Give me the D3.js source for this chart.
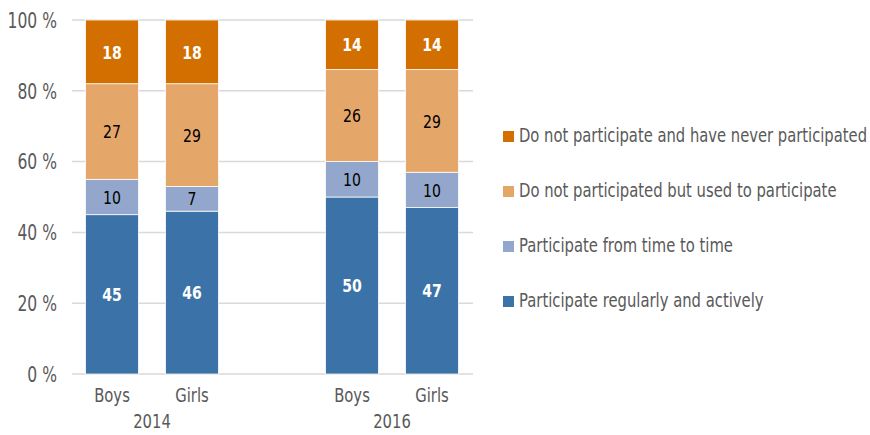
<!DOCTYPE html>
<html>
<head>
<meta charset="utf-8">
<style>
  body { margin: 0; background: #fff; }
  svg text { font-family: "DejaVu Sans", sans-serif; }
</style>
</head>
<body>
<svg id="chart" width="870" height="435"></svg>
<script src="https://cdn.jsdelivr.net/npm/d3@7"></script>
<script>
// categories (blank slot keeps the gap between years)
var bars = ['Boys 2014', 'Girls 2014', 'gap', 'Boys 2016', 'Girls 2016']
var barLabels = ['Boys', 'Girls', '', 'Boys', 'Girls']
var years = ['2014', '2016']
var series = [
  'Participate regularly and actively',
  'Participate from time to time',
  'Do not participated but used to participate',
  'Do not participate and have never participated'
]
// values per bar, in series order (bottom to top)
var regularly = [45, 46, null, 50, 47]
var timeToTime = [10, 7, null, 10, 10]
var usedTo = [27, 29, null, 26, 29]
var never = [18, 18, null, 14, 14]
var yTicks = [0, 20, 40, 60, 80, 100]

var colors = ['#3b72a7', '#93a6cb', '#e5a66a', '#d26f00']
var labelColors = ['#fff', '#000', '#000', '#fff']
var squeeze = 0.76 // narrow the glyphs, the picture uses a condensed face

var svg = d3.select('#chart')
var x = d3.scaleBand().domain(bars).range([72, 472]).paddingInner(0.34).paddingOuter(0.17)
var y = d3.scaleLinear().domain([0, 100]).range([374, 20])

function at(px, py) {
  return 'translate(' + px + ',' + py + ') scale(' + squeeze + ',1)'
}

// grid lines
svg.append('g').selectAll('line')
  .data(yTicks)
  .enter().append('line')
  .attr('x1', 72).attr('x2', 473)
  .attr('y1', function(d) { return y(d) }).attr('y2', function(d) { return y(d) })
  .attr('stroke', '#d9d9d9').attr('stroke-width', 1.5)

// y axis labels
var yAxis = d3.axisLeft(y).tickValues(yTicks).tickSize(0).tickPadding(0)
  .tickFormat(function(d) { return d + ' %' })
svg.append('g').attr('transform', 'translate(57,0)').call(yAxis)
  .call(function(g) { g.select('.domain').remove() })
  .selectAll('text')
  .attr('fill', '#595959').style('font-size', '20.5px')
  .style('font-family', '"DejaVu Sans", sans-serif')
  .attr('dy', '0.36em')
  .attr('transform', 'scale(' + squeeze + ',1)')

// stacked data
var table = bars.map(function(b, i) {
  return { bar: b, s0: regularly[i], s1: timeToTime[i], s2: usedTo[i], s3: never[i] }
}).filter(function(d) { return d.s0 != null })
var stack = d3.stack().keys(['s0', 's1', 's2', 's3'])
var layers = stack(table)

var groups = svg.append('g').selectAll('g')
  .data(layers)
  .enter().append('g')
  .attr('fill', function(d, i) { return colors[i] })

groups.selectAll('rect')
  .data(function(d) { return d })
  .enter().append('rect')
  .attr('x', function(d) { return x(d.data.bar) })
  .attr('width', x.bandwidth())
  .attr('y', function(d) { return y(d[1]) })
  .attr('height', function(d) { return y(d[0]) - y(d[1]) })
  .attr('stroke', '#fff').attr('stroke-width', 0.75)

groups.each(function(layer, li) {
  d3.select(this).selectAll('text')
    .data(layer)
    .enter().append('text')
    .attr('transform', function(d) {
      return at(x(d.data.bar) + x.bandwidth() / 2, (y(d[0]) + y(d[1])) / 2)
    })
    .attr('dy', '0.36em')
    .attr('text-anchor', 'middle')
    .attr('fill', labelColors[li])
    .style('font-size', '18.5px')
    .style('font-weight', li == 0 || li == 3 ? '600' : 'normal')
    .text(function(d) { return d[1] - d[0] })
})

// x axis labels
var xl = svg.append('g')
xl.selectAll('text.cat')
  .data(bars.filter(function(b) { return b != 'gap' }))
  .enter().append('text')
  .attr('class', 'cat')
  .attr('transform', function(d) { return at(x(d) + x.bandwidth() / 2, 402) })
  .attr('text-anchor', 'middle')
  .attr('fill', '#595959').style('font-size', '19.5px')
  .text(function(d) { return barLabels[bars.indexOf(d)] })
xl.selectAll('text.year')
  .data(years)
  .enter().append('text')
  .attr('class', 'year')
  .attr('transform', function(d, i) {
    var a = x(bars[i * 3]), b = x(bars[i * 3 + 1])
    return at((a + b + x.bandwidth()) / 2, 428)
  })
  .attr('text-anchor', 'middle')
  .attr('fill', '#595959').style('font-size', '19.5px')
  .text(function(d) { return d })

// legend, top entry first
var legendY = d3.scalePoint().domain(series.slice().reverse()).range([135, 300])
var leg = svg.append('g').selectAll('g')
  .data(series.slice().reverse())
  .enter().append('g')
  .attr('transform', function(d) { return 'translate(503,' + legendY(d) + ')' })
leg.append('rect')
  .attr('x', 0).attr('y', -4).attr('width', 11).attr('height', 11)
  .attr('fill', function(d) { return colors[series.indexOf(d)] })
leg.append('text')
  .attr('transform', at(16, 0))
  .attr('dy', '0.36em')
  .attr('fill', '#595959').style('font-size', '19.5px')
  .text(function(d) { return d })
  .each(function() {
    // keep the longest entry inside the window
    var w = this.getComputedTextLength() * squeeze
    if (w > 348) d3.select(this).attr('textLength', 348 / squeeze).attr('lengthAdjust', 'spacingAndGlyphs')
  })
</script>
</body>
</html>
